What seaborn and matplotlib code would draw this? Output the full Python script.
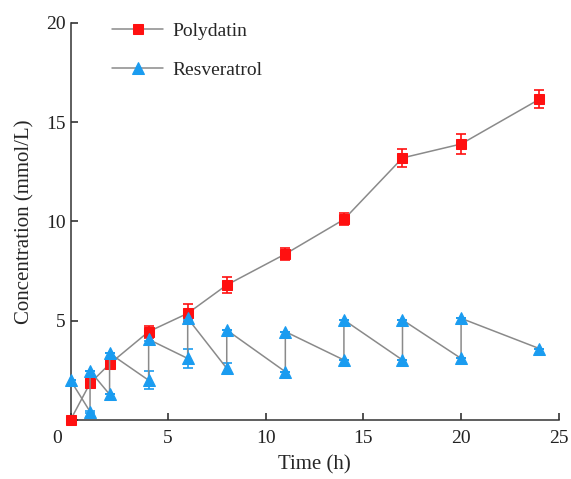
import numpy as np
import pandas as pd
import matplotlib
matplotlib.use("Agg")
import matplotlib.pyplot as plt
import matplotlib.transforms as mtransforms
import seaborn as sns

# datos
tiempo_poly = [0, 1, 2, 4, 6, 8, 11, 14, 17, 20, 24]
conc_poly = [0.0, 1.85, 2.82, 4.45, 5.37, 6.8, 8.36, 10.1, 13.2, 13.9, 16.15]
err_poly = [0.0, 0.1, 0.15, 0.3, 0.45, 0.4, 0.3, 0.3, 0.45, 0.5, 0.45]

tiempo_res = [0, 1, 1, 2, 2, 4, 4, 6, 6, 8, 8, 11, 11, 14, 14, 17, 17, 20, 20, 24]
conc_res = [2.0, 0.42, 2.47, 1.29, 3.36, 2.0, 4.06, 3.1, 5.12, 2.6, 4.53,
            2.43, 4.45, 3.02, 5.04, 3.02, 5.04, 3.1, 5.12, 3.6]
err_res = [0.0, 0.05, 0.0, 0.0, 0.0, 0.45, 0.1, 0.5, 0.1, 0.25, 0.0,
           0.0, 0.0, 0.0, 0.0, 0.0, 0.0, 0.0, 0.0, 0.0]

rojo = "#ff1010"
azul = "#1a9cf0"
gris = "#8a8a8a"

sns.set_style("ticks")
plt.rcParams["font.family"] = ["Liberation Serif", "DejaVu Serif"]

df_poly = pd.DataFrame({"t": tiempo_poly, "c": conc_poly})
df_res = pd.DataFrame({"t": tiempo_res, "c": conc_res})

fig = plt.figure(figsize=(5.71, 4.79), dpi=100)
ax = fig.add_axes([0.1235, 0.1232, 0.855, 0.829])

ax.errorbar(tiempo_poly, conc_poly, yerr=err_poly, fmt="none", ecolor=rojo,
            elinewidth=1.2, capsize=3.5, capthick=1.2, zorder=3)
ax.errorbar(tiempo_res, conc_res, yerr=err_res, fmt="none", ecolor=azul,
            elinewidth=1.2, capsize=3.5, capthick=1.2, zorder=3)

# estimator=None para que no promedie los puntos con el mismo tiempo
sns.lineplot(data=df_poly, x="t", y="c", ax=ax, sort=False, estimator=None,
             errorbar=None, color=gris, linewidth=1.1, marker="s",
             markersize=6.5, markerfacecolor=rojo, markeredgecolor=rojo,
             label="Polydatin", zorder=4, clip_on=False)
sns.lineplot(data=df_res, x="t", y="c", ax=ax, sort=False, estimator=None,
             errorbar=None, color=gris, linewidth=1.1, marker="^",
             markersize=8, markerfacecolor=azul, markeredgecolor=azul,
             label="Resveratrol", zorder=4, clip_on=False)

ax.set_xlim(0, 25)
ax.set_ylim(0, 20)
ax.set_xticks([0, 5, 10, 15, 20, 25])
ax.set_yticks([0, 5, 10, 15, 20])
ax.set_yticklabels(["", "5", "10", "15", "20"])
ax.tick_params(direction="in", length=5, width=1.1, labelsize=14, colors="#222222")
ax.tick_params(axis="x", pad=7)

# el "0" del origen va un poco a la izquierda
desplazar = mtransforms.ScaledTranslation(-13 / 100, 0, fig.dpi_scale_trans)
ax.get_xticklabels()[0].set_transform(ax.get_xticklabels()[0].get_transform() + desplazar)

for lado in ["top", "right"]:
    ax.spines[lado].set_visible(False)
for lado in ["left", "bottom"]:
    ax.spines[lado].set_color("#333333")
    ax.spines[lado].set_linewidth(1.1)

ax.set_xlabel("Time (h)", fontsize=15, labelpad=6)
ax.set_ylabel("Concentration (mmol/L)", fontsize=15, labelpad=8)

ax.legend(loc="upper left", bbox_to_anchor=(0.05, 1.045), frameon=False,
          fontsize=14, labelspacing=1.1, handlelength=2.6, handletextpad=0.5)

plt.savefig("out.png", dpi=100)
